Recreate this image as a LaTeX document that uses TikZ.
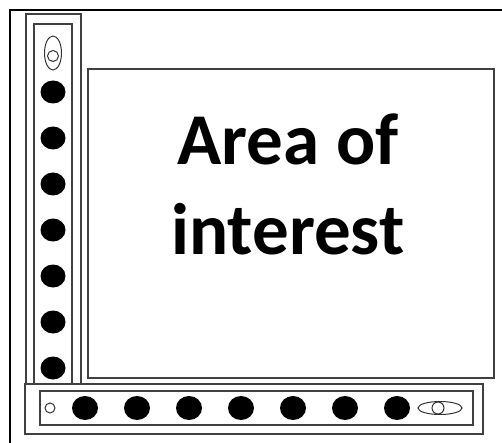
\documentclass[tikz,border=0pt]{standalone}
\usepackage{fontspec}
\setmainfont{Carlito}

\begin{document}
\begin{tikzpicture}[x=1pt, y=-1pt,
  barline/.style={draw=black!75, line width=1.6pt},
  sensor/.style={draw=black!80, line width=1pt},
  bigdot/.style={fill=black}]
  \useasboundingbox (0,0) rectangle (502,443);
  % outer frame
  \draw[line width=2pt] (10,443) -- (10,10) -- (502,10);
  % area of interest
  \draw[barline] (88,69) rectangle (494,378);
  \node[font=\fontsize{73}{90}\selectfont\bfseries, align=center] (area) at (288,184) {Area of\\interest};
  % vertical bar
  \draw[barline] (26,384) -- (26,14) -- (81,14) -- (81,384);
  \draw[barline] (34,384) -- (34,24) -- (72,24) -- (72,384);
  % horizontal bar
  \draw[barline] (25,384) rectangle (483,434);
  \draw[barline] (40,391) rectangle (473,425);
  % dots
  \foreach \y in {92,138,...,368}
    \fill[bigdot] (53,\y) ellipse (12.5 and 11.5);
  \foreach \x in {85,137,...,397}
    \fill[bigdot] (\x,408) ellipse (13 and 12);
  % sensors
  \draw[sensor] (53,53) ellipse (8.5 and 17);
  \draw[sensor] (53,56) circle (5.5);
  \draw[sensor] (440,408) ellipse (22 and 6.5);
  \draw[sensor] (438,408) circle (6);
  \draw[sensor] (50,408) circle (5);
\end{tikzpicture}
\end{document}
